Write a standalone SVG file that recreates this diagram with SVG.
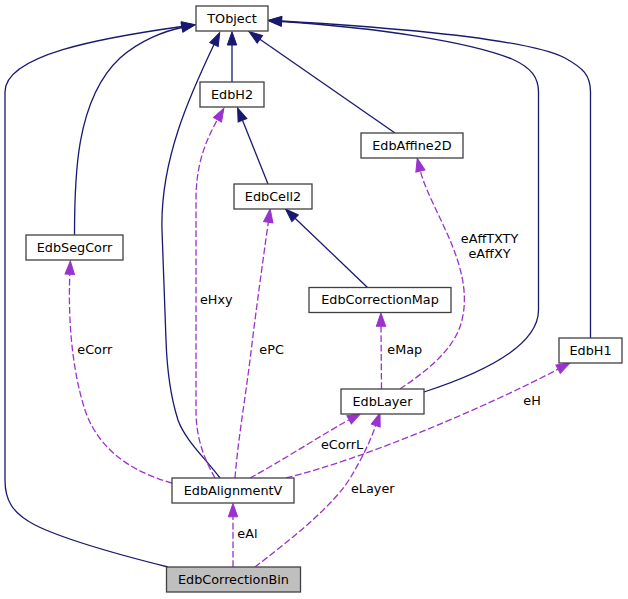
<svg xmlns="http://www.w3.org/2000/svg" width="628" height="599" viewBox="0 0 628 599">
<defs>
<style>
.node rect{fill:#ffffff;stroke:#404040;stroke-width:1.3}
.node text{font-family:"DejaVu Sans",sans-serif;font-size:12.8px;fill:#000;text-anchor:middle}
.inh{fill:none;stroke:#191970;stroke-width:1.3;marker-end:url(#an)}
.use{fill:none;stroke:#9a32cd;stroke-width:1.3;stroke-dasharray:6.7,2.7;marker-end:url(#ap)}
.lbl{font-family:"DejaVu Sans",sans-serif;font-size:12.8px;fill:#000}
</style>
<marker id="an" markerUnits="userSpaceOnUse" markerWidth="16" markerHeight="12" refX="0" refY="4.7" orient="auto" overflow="visible">
<path d="M0,0 L13.3,4.7 L0,9.4 z" fill="#191970" stroke="#191970" stroke-width="1"/>
</marker>
<marker id="ap" markerUnits="userSpaceOnUse" markerWidth="16" markerHeight="12" refX="0" refY="4.7" orient="auto" overflow="visible">
<path d="M0,0 L13.3,4.7 L0,9.4 z" fill="#9a32cd" stroke="#9a32cd" stroke-width="1"/>
</marker>
</defs>
<rect width="628" height="599" fill="#ffffff"/>
<g id="connectors">
<path class="inh" d="M232,82 L232,45"/>
<path class="inh" d="M395,133 L259.9,39.3"/>
<path class="inh" d="M268,184 L242.5,120.3"/>
<path class="inh" d="M367.5,287.5 L295.1,218.2"/>
<path class="inh" d="M424,392 C470,377 538.5,350 538.5,310 L538.5,92 C538.5,78 532,68 512,59 C470,42 380,28 281.5,21.5"/>
<path class="inh" d="M590.5,338 L590.5,92 C590.5,75 583,68 565,58 C530,40 400,28 281.5,21"/>
<path class="inh" d="M74.5,235 C74.5,180 75,100 120,58 C140,40 165,31 182,27.5"/>
<path class="inh" d="M168,567 C120,555 65,540 35,525 C12,513 5,500 5,480 L5,92 C5,55 100,38 182,26.5"/>
<path class="inh" d="M220,478 C205,458 185,440 178,420 C170,395 167,370 166,340 L162,230 C160,160 190,95 214,44.5"/>
<path class="use" d="M215,478 C205,460 196,440 196,410 L196,200 C196,165 205,142 217.4,119.8"/>
<path class="use" d="M235,478 C238,440 245,400 250,360 C256,310 263,260 268.3,222.2"/>
<path class="use" d="M172,483 C140,474 100,455 85,410 C72,370 68,320 69.8,274.2"/>
<path class="use" d="M250,478 C280,462 318,437 349.1,419.8"/>
<path class="use" d="M286,478 C360,460 480,410 558.1,369.2"/>
<path class="use" d="M381.5,389 L381,326.3"/>
<path class="use" d="M400,389 C425,372 455,350 462,320 C468,295 462,270 452,245 C442,220 425,190 420.4,171.1"/>
<path class="use" d="M255,567 C290,540 335,505 352,475 C362,458 370,442 375.7,425.5"/>
<path class="use" d="M233,567 L233,516.8"/>
<text class="lbl" x="200" y="303.5">eHxy</text>
<text class="lbl" x="259.3" y="354">ePC</text>
<text class="lbl" x="77.3" y="354">eCorr</text>
<text class="lbl" x="387.3" y="354">eMap</text>
<text class="lbl" x="489.5" y="243.3" text-anchor="middle">eAffTXTY</text>
<text class="lbl" x="489.5" y="258.3" text-anchor="middle">eAffXY</text>
<text class="lbl" x="321" y="449">eCorrL</text>
<text class="lbl" x="351" y="493.3">eLayer</text>
<text class="lbl" x="523.3" y="405">eH</text>
<text class="lbl" x="237.3" y="538.3">eAl</text>
</g>
<g id="TObject" class="node"><rect x="196" y="6" width="72" height="25"/><text x="232" y="22.5">TObject</text></g>
<g id="EdbH2" class="node"><rect x="200" y="82" width="64" height="25"/><text x="232" y="98.5">EdbH2</text></g>
<g id="EdbAffine2D" class="node"><rect x="361" y="133" width="102" height="25"/><text x="412" y="149.5">EdbAffine2D</text></g>
<g id="EdbCell2" class="node"><rect x="234" y="184" width="78" height="25"/><text x="273" y="200.5">EdbCell2</text></g>
<g id="EdbSegCorr" class="node"><rect x="26" y="235" width="97" height="25"/><text x="74.5" y="251.5">EdbSegCorr</text></g>
<g id="EdbCorrectionMap" class="node"><rect x="309" y="287.5" width="142" height="25"/><text x="380" y="304">EdbCorrectionMap</text></g>
<g id="EdbH1" class="node"><rect x="559" y="338" width="63" height="25"/><text x="590.5" y="354.5">EdbH1</text></g>
<g id="EdbLayer" class="node"><rect x="341" y="389" width="83" height="25"/><text x="382.5" y="405.5">EdbLayer</text></g>
<g id="EdbAlignmentV" class="node"><rect x="172" y="478" width="122" height="25"/><text x="233" y="494.5">EdbAlignmentV</text></g>
<g id="EdbCorrectionBin" class="node"><rect x="166.5" y="567" width="134" height="25" style="fill:#bfbfbf"/><text x="233.5" y="583.5">EdbCorrectionBin</text></g>
</svg>
